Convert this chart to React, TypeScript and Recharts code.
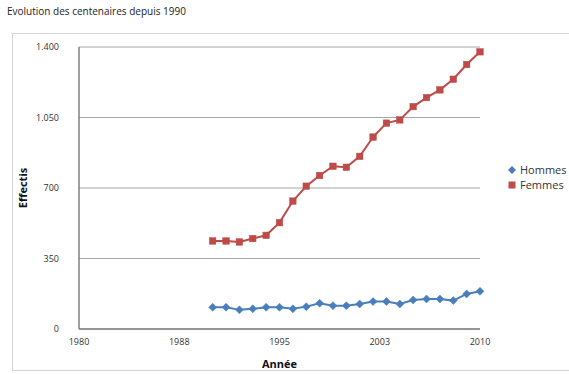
import React from 'react';
import { LineChart, Line, XAxis, YAxis, CartesianGrid, Legend } from 'recharts';

const years = [1990, 1991, 1992, 1993, 1994, 1995, 1996, 1997, 1998, 1999, 2000, 2001, 2002, 2003, 2004, 2005, 2006, 2007, 2008, 2009, 2010];
const hommes = [108, 108, 95, 100, 108, 108, 100, 111, 128, 116, 116, 124, 136, 136, 124, 144, 149, 149, 141, 174, 187];
const femmes = [437, 437, 432, 449, 465, 528, 635, 709, 762, 808, 803, 857, 953, 1022, 1038, 1104, 1149, 1187, 1240, 1313, 1376];

const xTicks = [1980, 1987.5, 1995, 2002.5, 2010];
const xTickLabels = ['1980', '1988', '1995', '2003', '2010'];
const yTicks = [0, 350, 700, 1050, 1400];
const yTickLabels = ['0', '350', '700', '1.050', '1.400'];
const seriesNames = ['Hommes', 'Femmes'];

const data = years.map((y, i) => ({ year: y, Hommes: hommes[i], Femmes: femmes[i] }));

const FONT = '"Open Sans", "DejaVu Sans", sans-serif';
const BLUE = '#4a7ebb';
const RED = '#be4b48';
const COLORS = [BLUE, RED];

const DiamondDot = (props: any) => {
  const { cx, cy, index } = props;
  if (cx == null || cy == null) return null;
  const r = 4;
  return (
    <path
      key={`d-${index}`}
      d={`M${cx},${cy - r}L${cx + r},${cy}L${cx},${cy + r}L${cx - r},${cy}Z`}
      fill={BLUE}
      stroke={BLUE}
      strokeWidth={0.5}
    />
  );
};

const SquareDot = (props: any) => {
  const { cx, cy, index } = props;
  if (cx == null || cy == null) return null;
  const s = 6.5;
  return <rect key={`s-${index}`} x={cx - s / 2} y={cy - s / 2} width={s} height={s} fill={RED} stroke={RED} strokeWidth={0.5} />;
};

const YLabel = (props: any) => {
  const vb = props.viewBox || { x: 0, y: 0, width: 0, height: 0 };
  const x = 22;
  const y = vb.y + vb.height / 2;
  return (
    <text x={x} y={y} transform={`rotate(-90, ${x}, ${y})`} textAnchor="middle" dominantBaseline="central" fontSize={11} fontWeight="bold" fill="#111" fontFamily={FONT}>
      Effectis
    </text>
  );
};

const XLabel = (props: any) => {
  const vb = props.viewBox || { x: 0, y: 0, width: 0, height: 0 };
  const x = vb.x + vb.width / 2;
  return (
    <text x={x} y={363} textAnchor="middle" dominantBaseline="central" fontSize={11} fontWeight="bold" fill="#111" fontFamily={FONT}>
      Année
    </text>
  );
};

const LegendContent = () => (
  <div style={{ fontSize: 11, lineHeight: '15px', color: '#333', fontFamily: FONT, whiteSpace: 'nowrap' }}>
    {seriesNames.map((name, i) => (
      <div key={name} style={{ display: 'flex', alignItems: 'center' }}>
        <svg width={10} height={10} style={{ marginRight: 3 }}>
          {i === 0 ? (
            <path d="M5,1L9,5L5,9L1,5Z" fill={COLORS[i]} />
          ) : (
            <rect x={1.5} y={1.5} width={7} height={7} fill={COLORS[i]} />
          )}
        </svg>
        <span>{name}</span>
      </div>
    ))}
  </div>
);

export default function App() {
  return (
    <div style={{ position: 'absolute', left: 0, top: 0, width: 569, height: 374, background: '#fff', overflow: 'hidden', fontFamily: FONT }}>
      <div style={{ position: 'absolute', left: 7, top: 4, fontSize: 10, color: '#222', whiteSpace: 'nowrap' }}>
        Evolution des centenaires depuis 1990
      </div>
      <div style={{ position: 'absolute', left: 12, top: 33, width: 600, height: 336, borderTop: '1px solid #d4d4d4', borderLeft: '1px solid #d4d4d4', borderBottom: '1px solid #d4d4d4' }} />
      <div style={{ position: 'absolute', left: 0, top: 0 }}>
        <LineChart width={569} height={374} data={data} margin={{ top: 47, right: 89, bottom: 0, left: 0 }}>
          <CartesianGrid vertical={false} stroke="#a6a6a6" strokeWidth={1} horizontalValues={yTicks} />
          <XAxis
            type="number"
            dataKey="year"
            domain={[1980, 2010]}
            ticks={xTicks}
            interval={0}
            tickFormatter={(v: number) => xTickLabels[xTicks.indexOf(v)]}
            tickLine={false}
            axisLine={{ stroke: '#7f7f7f', strokeWidth: 1.5 }}
            tick={{ fontSize: 9, fill: '#333', fontFamily: FONT }}
            tickMargin={4}
            height={45}
            label={<XLabel />}
          />
          <YAxis
            type="number"
            domain={[0, 1400]}
            ticks={yTicks}
            interval={0}
            tickFormatter={(v: number) => yTickLabels[yTicks.indexOf(v)]}
            tickLine={false}
            axisLine={{ stroke: '#7f7f7f', strokeWidth: 1.5 }}
            tick={{ fontSize: 9, fill: '#333', fontFamily: FONT }}
            tickMargin={14}
            width={79}
            label={<YLabel />}
          />
          <Legend
            layout="vertical"
            align="center"
            verticalAlign="middle"
            content={<LegendContent />}
            wrapperStyle={{ position: 'absolute', left: 507, top: 162, width: 90 }}
          />
          <Line
            type="linear"
            dataKey="Hommes"
            stroke={BLUE}
            strokeWidth={2}
            dot={<DiamondDot />}
            legendType="diamond"
            isAnimationActive={false}
          />
          <Line
            type="linear"
            dataKey="Femmes"
            stroke={RED}
            strokeWidth={2}
            dot={<SquareDot />}
            legendType="square"
            isAnimationActive={false}
          />
        </LineChart>
      </div>
    </div>
  );
}
